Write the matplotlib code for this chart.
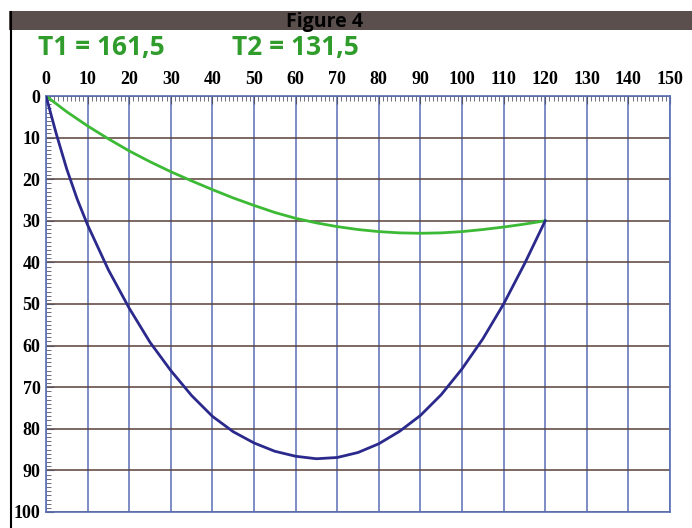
import numpy as np
import matplotlib
matplotlib.use("Agg")
import matplotlib.pyplot as plt
from matplotlib.patches import Rectangle
from matplotlib.lines import Line2D

# data (depth values, y axis points down)
green_x = [0, 5, 10, 15, 20, 25, 30, 35, 40, 45, 50, 55, 60, 65, 70, 75, 80, 85, 90, 95, 100, 105, 110, 115, 120]
green_y = [0, 3.8, 7.2, 10.3, 13.2, 15.8, 18.2, 20.4, 22.5, 24.5, 26.3, 28.0, 29.4, 30.5, 31.4, 32.1,
           32.6, 32.9, 33.0, 32.9, 32.6, 32.1, 31.5, 30.8, 30]
blue_x = [0, 2.5, 5, 7.5, 10, 15, 20, 25, 30, 35, 40, 45, 50, 55, 60, 65, 70, 75, 80, 85, 90, 95, 100, 105, 110, 115, 120]
blue_y = [0, 9.2, 17.6, 24.8, 31, 41.8, 51, 59.2, 66, 72, 77, 80.7, 83.4, 85.4, 86.6, 87.2, 86.9, 85.7,
          83.6, 80.6, 76.8, 71.8, 65.6, 58.4, 50.0, 40.4, 30]

x_ticks = list(range(0, 151, 10))
y_ticks = list(range(0, 101, 10))
t1_label = "T1 = 161,5"
t2_label = "T2 = 131,5"
title = "Figure 4"

fig = plt.figure(figsize=(6.92, 5.28), dpi=100)

# dark header band and left border
fig.patches.append(Rectangle((9 / 692, 1 - 30 / 528), 1, 19 / 528, transform=fig.transFigure,
                             facecolor="#5b4f4d", edgecolor="none", zorder=0))
fig.lines.append(Line2D([11 / 692, 11 / 692], [0, 1 - 12 / 528], transform=fig.transFigure,
                        color="black", lw=1.5))
fig.text(325 / 692, 1 - 22 / 528, title, ha="center", va="center", fontsize=14,
         fontweight="bold", family="Open Sans", color="black")
fig.text(38 / 692, 1 - 47 / 528, t1_label, ha="left", va="center", fontsize=19,
         fontweight="bold", family="Open Sans", color="#2f9c2c")
fig.text(232 / 692, 1 - 47 / 528, t2_label, ha="left", va="center", fontsize=19,
         fontweight="bold", family="Open Sans", color="#2f9c2c")

ax = fig.add_axes([46 / 692, 1 - 512 / 528, 624 / 692, 416 / 528])
ax.set_xlim(0, 150)
ax.set_ylim(100, 0)

for x in x_ticks:
    ax.axvline(x, color="#5a6fb5", lw=1.1, zorder=1)
for y in y_ticks:
    ax.axhline(y, color="#5a4038", lw=1.1, zorder=1)

ax.plot(green_x, green_y, color="#3dba35", lw=2, zorder=3, solid_joinstyle="round")
ax.plot(blue_x, blue_y, color="#2b2a8c", lw=2, zorder=3, solid_joinstyle="round")

ax.xaxis.tick_top()
ax.set_xticks(x_ticks)
ax.set_yticks(y_ticks)
ax.set_xticks(np.arange(0, 151, 1), minor=True)
ax.set_yticks(np.arange(0, 101, 1), minor=True)
ax.tick_params(which="major", direction="in", length=6, width=0.8, color="#555566", pad=6)
ax.tick_params(which="minor", direction="in", length=3.5, width=0.6, color="#555566")
ax.tick_params(axis="x", which="both", top=True, bottom=False)
ax.tick_params(axis="y", which="both", left=True, right=False, pad=4)
for lab in ax.get_xticklabels() + ax.get_yticklabels():
    lab.set_fontfamily("Liberation Serif")
    lab.set_fontweight("bold")
    lab.set_fontsize(13)
for s in ax.spines.values():
    s.set_color("#5a6fb5")
    s.set_linewidth(1.2)

fig.savefig("out.png", dpi=100)
